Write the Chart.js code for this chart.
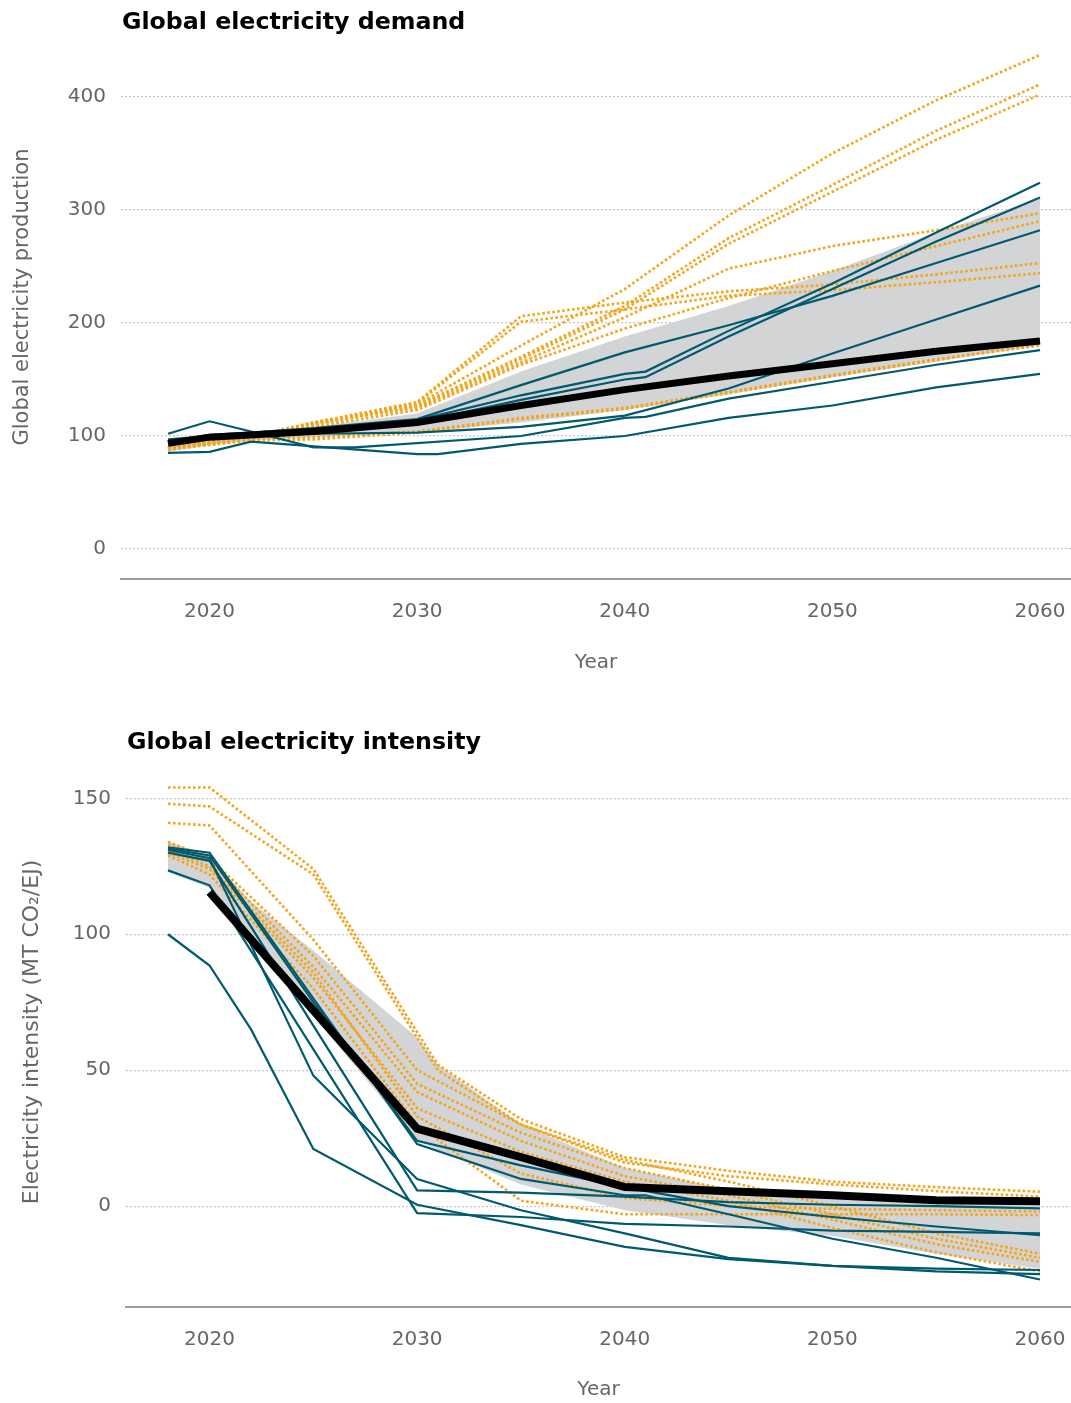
<!DOCTYPE html>
<html><head><meta charset="utf-8">
<script src="https://cdn.jsdelivr.net/npm/chart.js@4"></script>
<style>
html,body{margin:0;padding:0;background:#fff;overflow:hidden;}
body{width:1071px;height:1403px;position:relative;font-family:"DejaVu Sans",Verdana,sans-serif;}
.title{position:absolute;font-weight:bold;font-size:23.7px;color:#000;line-height:28px;white-space:nowrap;z-index:2;}
.ytitle{position:absolute;width:400px;height:26px;line-height:26px;text-align:center;color:#666;white-space:nowrap;transform:rotate(-90deg);transform-origin:50% 50%;z-index:2;}
canvas{position:absolute;left:0;display:block;}
</style></head><body>
<div class="title" style="left:122px;top:7px">Global electricity demand</div>
<div class="ytitle" style="left:-179px;top:284px;font-size:21px">Global electricity production</div>
<canvas id="c1" width="1071" height="690" style="top:0;width:1071px;height:690px"></canvas>
<div class="title" style="left:127px;top:727px">Global electricity intensity</div>
<div class="ytitle" style="left:-169px;top:1019px;font-size:22px">Electricity intensity (MT CO₂/EJ)</div>
<canvas id="c2" width="1071" height="703" style="top:700px;width:1071px;height:703px"></canvas>
<script>
// ---------- shared ----------
const xTickYears = [2020, 2030, 2040, 2050, 2060];

// ---------- Global electricity demand ----------
const demandYears = [2018, 2020, 2022, 2025, 2027, 2030, 2031, 2035, 2040, 2041, 2045, 2050, 2055, 2060];
const demandYTicks = [0, 100, 200, 300, 400];
const demandMedian = [93.5, 99, null, 104, null, 112, null, 127, 141, null, 153, 164, 175, 184];
const demandBandUpper = [96, 101, 104, 108, null, 120, null, 157, 188, null, 215, 246, 280, 310];
const demandBandLower = [86, 92, 96, 99, null, 103, null, 112, 123, null, 137, 152, 166, 180];
const demandTealA = [85, 86, 95, null, null, 84, 84, 93, 100, null, 116, 127, 143, 155];
const demandTealB = [102, 113, 104, 90, 90, null, null, 100, 116, 117, 133, 148, 163, 176];
const demandTealC = [97, 100, 101, 102, null, 103, null, 108, 118, null, 142, 173, 203, 233];
const demandTealD = [95, 101, 103, 107, null, 115, null, 145, 174, null, 198, 224, 253, 282];
const demandTealE = [93, 99, 102, 105, null, 112, null, 132, 150, 152, 188, 230, 272, 311];
const demandTealF = [94, 100, 103, 106, null, 114, null, 136, 155, 157, 193, 235, 280, 324];
const demandOrange1 = [88, 93, 100, 110, null, 128, null, 180, 230, null, 295, 350, 397, 437];
const demandOrange2 = [89, 94, 100, 111, null, 127, null, 170, 215, null, 275, 322, 370, 411];
const demandOrange3 = [89, 94, 100, 110, null, 126, null, 168, 212, null, 270, 316, 362, 402];
const demandOrange4 = [90, 95, 100, 112, null, 125, null, 165, 205, null, 248, 268, 282, 297];
const demandOrange5 = [90, 94, 99, 108, null, 123, null, 163, 195, null, 222, 246, 268, 290];
const demandOrange6 = [89, 93, 98, 112, null, 130, null, 206, 218, null, 228, 234, 243, 253];
const demandOrange7 = [89, 93, 98, 111, null, 129, null, 201, 212, null, 224, 229, 236, 244];
const demandOrange8 = [88, 92, 96, 97, null, 103, null, 115, 124, null, 138, 153, 167, 182];
const demandOrange9 = [89, 93, 97, 99, null, 104, null, 116, 125, null, 139, 154, 168, 180];

// ---------- Global electricity intensity ----------
const intensityYears = [2018, 2020, 2022, 2025, 2030, 2031, 2035, 2040, 2041, 2045, 2050, 2055, 2060];
const intensityYTicks = [0, 50, 100, 150];
const intensityMedian = [null, 115.5, null, null, 28.5, null, 18, 7, null, 5.5, 4, 2.2, 1.8];
const intensityBandUpper = [134, 128.5, 112, 94, 62, 52, 30, 14, null, 6, 4, 2, 1.5];
const intensityBandLower = [123, 117, null, 70, 24, null, 8, -1.5, null, -7, -11, -17.5, -23];
const intensityTealA = [132, 130, null, null, 22.8, null, 10, 4, 4, -3, -12, -19, -27];
const intensityTealB = [131, 128, null, 48, 10, null, -1.5, -10, null, -19, -22, -24, -25];
const intensityTealC = [130, 127, null, null, 5.8, null, 5, 3.5, null, 1.5, 0.5, 0, -0.8];
const intensityTealD = [123.5, 118, null, null, -2.6, null, -4, -6.5, null, -7.5, -9, -9.5, -10];
const intensityTealE = [100, 88.5, 65, 21, 0.5, null, -7, -15, null, -19.5, -22, -23, -23.5];
const intensityTealF = [131.5, 129, null, 75, 24, null, 15, 7, null, 0, -4, -7.5, -10.7];
const intensityOrange1 = [154, 154, null, 124, 64, 52, 32, 18, null, 13, 9, 7, 5.3];
const intensityOrange2 = [148, 147, null, 122, 62, 50, 30, 16, null, 11, 8, 5.5, 3.5];
const intensityOrange3 = [141, 140, null, 98, 50, null, 30, 17, null, 9, 0, -10, -17.5];
const intensityOrange4 = [134, 128, null, 92, 45, null, 27, 14, null, 6, -3, -12, -19];
const intensityOrange5 = [133, 127, null, 88, 42, null, 24, 11, null, 4, -5, -14, -20.5];
const intensityOrange6 = [130, 124, null, 84, 36, null, 20, 9, null, 2, -8, -17, -24];
const intensityOrange7 = [129, 122, null, 80, 30, null, 2, -3, null, -3, -3, -3, -3.3];
const intensityOrange8 = [131, 125, null, 86, 33, null, 12, 3, null, 0, -1, -1.5, -2];

// ---------- styles ----------
const FONT = '"DejaVu Sans", Verdana, sans-serif';
const TEAL = '#005a6f';
const ORANGE = '#f4a51c';
const BAND = '#d3d4d6';
const GREY_TEXT = '#666666';

function pts(years, vals) {
  const out = [];
  years.forEach((yr, i) => { if (vals[i] !== null && vals[i] !== undefined) out.push({x: yr, y: vals[i]}); });
  return out;
}
function teal(years, vals) {
  return {data: pts(years, vals), borderColor: TEAL, borderWidth: 2.2, pointRadius: 0, fill: false, order: 1, tension: 0};
}
function orange(years, vals) {
  return {data: pts(years, vals), borderColor: ORANGE, borderWidth: 2.6, borderDash: [2.6, 2.4], pointRadius: 0, fill: false, order: 2, tension: 0};
}
function band(years, upper, lower) {
  return [
    {data: pts(years, upper), borderWidth: 0, borderColor: 'rgba(0,0,0,0)', backgroundColor: BAND, pointRadius: 0, fill: '+1', order: 3, tension: 0},
    {data: pts(years, lower), borderWidth: 0, borderColor: 'rgba(0,0,0,0)', pointRadius: 0, fill: false, order: 3, tension: 0}
  ];
}
function median(years, vals, w) {
  return {data: pts(years, vals), borderColor: '#000', borderWidth: w, pointRadius: 0, fill: false, order: 0, tension: 0, borderJoinStyle: 'miter', borderCapStyle: 'butt'};
}

function makeChart(id, o) {
  return new Chart(document.getElementById(id), {
    type: 'line',
    data: {datasets: o.datasets},
    options: {
      responsive: false, animation: false, devicePixelRatio: 1,
      layout: {padding: {top: o.padTop, left: o.padLeft, right: 0, bottom: 0}},
      plugins: {legend: {display: false}, tooltip: {enabled: false}, title: {display: false}},
      scales: {
        x: {
          type: 'linear', min: o.xmin, max: o.xmax,
          afterBuildTicks: s => { s.ticks = xTickYears.map(v => ({value: v})); },
          afterFit: s => { s.height = o.xh; s.paddingLeft = 0; s.paddingRight = 0; },
          grid: {display: false},
          border: {display: true, color: '#9d9d9f', width: 2},
          ticks: {font: {family: FONT, size: 20}, color: GREY_TEXT, padding: 13, maxRotation: 0, autoSkip: false, callback: v => String(v)},
          title: {display: true, text: 'Year', font: {family: FONT, size: 20}, color: GREY_TEXT, padding: {top: 0, bottom: o.xtb}}
        },
        y: {
          type: 'linear', min: o.ymin, max: o.ymax,
          afterBuildTicks: s => { s.ticks = o.yticks.map(v => ({value: v})); },
          afterFit: s => { s.width = o.yw; },
          grid: {color: '#c6c6c6', lineWidth: 1.2, drawTicks: false},
          border: {display: false, dash: [2, 2]},
          ticks: {font: {family: FONT, size: 20}, color: GREY_TEXT, padding: o.ytp, callback: v => String(v)},
          title: {display: false}
        }
      }
    }
  });
}

const dY = demandYears;
makeChart('c1', {
  datasets: [
    median(dY, demandMedian, 7),
    teal(dY, demandTealA), teal(dY, demandTealB), teal(dY, demandTealC),
    teal(dY, demandTealD), teal(dY, demandTealE), teal(dY, demandTealF),
    orange(dY, demandOrange1), orange(dY, demandOrange2), orange(dY, demandOrange3),
    orange(dY, demandOrange4), orange(dY, demandOrange5), orange(dY, demandOrange6),
    orange(dY, demandOrange7), orange(dY, demandOrange8), orange(dY, demandOrange9),
    ...band(dY, demandBandUpper, demandBandLower)
  ],
  padTop: 46, padLeft: 0, xmin: 2015.736, xmax: 2061.493, xh: 111, xtb: 15,
  ymin: -26.5, ymax: 445, yticks: demandYTicks, yw: 121, ytp: 15
});

const iY = intensityYears;
makeChart('c2', {
  datasets: [
    median(iY, intensityMedian, 8),
    teal(iY, intensityTealA), teal(iY, intensityTealB), teal(iY, intensityTealC),
    teal(iY, intensityTealD), teal(iY, intensityTealE), teal(iY, intensityTealF),
    orange(iY, intensityOrange1), orange(iY, intensityOrange2), orange(iY, intensityOrange3),
    orange(iY, intensityOrange4), orange(iY, intensityOrange5), orange(iY, intensityOrange6),
    orange(iY, intensityOrange7), orange(iY, intensityOrange8),
    ...band(iY, intensityBandUpper, intensityBandLower)
  ],
  padTop: 82, padLeft: 5, xmin: 2015.977, xmax: 2061.493, xh: 96, xtb: 1,
  ymin: -37.1, ymax: 156, yticks: intensityYTicks, yw: 121, ytp: 15
});
</script>
</body></html>
